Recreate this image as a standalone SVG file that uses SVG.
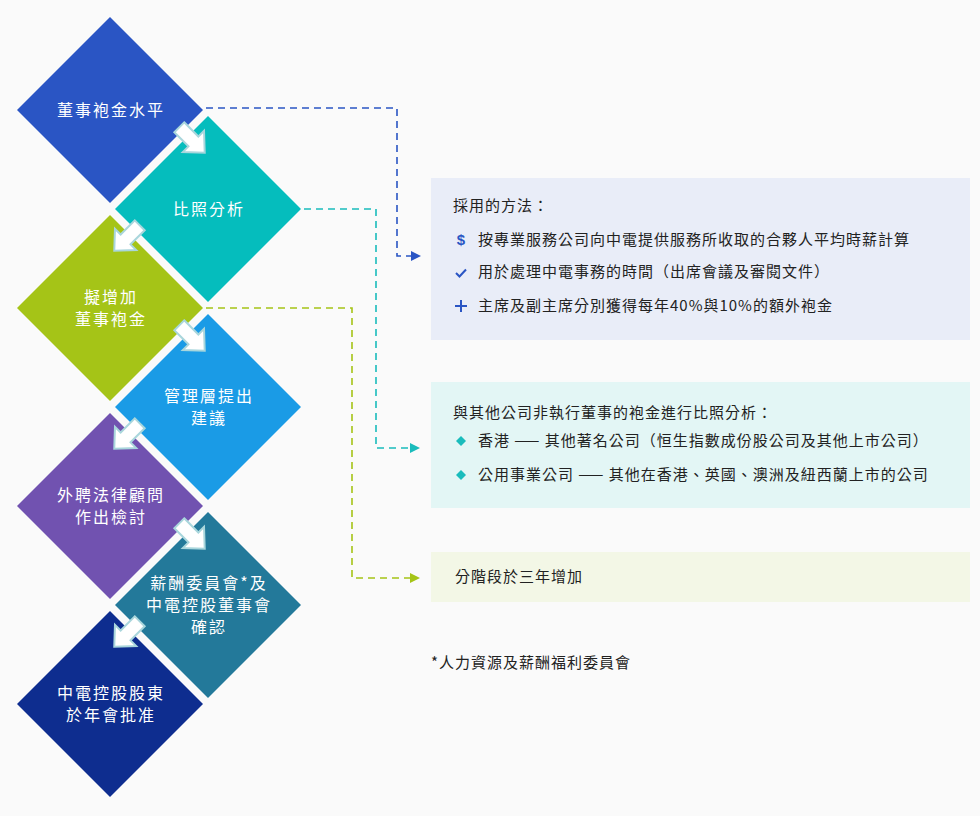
<svg xmlns="http://www.w3.org/2000/svg" width="980" height="816" viewBox="0 0 980 816">
<style>
.n{font-family:"Noto Sans CJK TC","Noto Sans CJK SC",sans-serif;font-size:16px;letter-spacing:2px;fill:#fff;text-anchor:middle}
.t{font-family:"Noto Sans CJK TC","Noto Sans CJK SC",sans-serif;font-size:15px;letter-spacing:1px;fill:#222}
.ar{fill:#fff;stroke:#a9d6dc;stroke-width:2}
.c{fill:none;stroke-width:1.6;stroke-dasharray:7 5}
</style>
<defs>
<path id="arr" d="M-18,-7 L2,-7 L2,-15 L18,0 L2,15 L2,7 L-18,7 Z"/>
<path id="dm" d="M0,-93 L93,0 L0,93 L-93,0 Z"/>
</defs>
<rect width="980" height="816" fill="#fafafa"/>
<rect x="431" y="178" width="539" height="162" fill="#e9edf8"/>
<rect x="431" y="382" width="539" height="126" fill="#e3f6f5"/>
<rect x="431" y="552" width="539" height="50" fill="#f3f7e6"/>
<g id="d1"><use href="#dm" x="110" y="110" fill="#2a55c4"/><text class="n" x="111" y="116">董事袍金水平</text></g>
<g id="d2"><use href="#dm" x="208" y="209" fill="#05bdbd"/><text class="n" x="209" y="215">比照分析</text></g>
<g id="d3"><use href="#dm" x="110" y="308" fill="#a5c417"/><text class="n" x="111" y="303">擬增加</text><text class="n" x="111" y="325">董事袍金</text></g>
<g id="d4"><use href="#dm" x="208" y="407" fill="#1a9be6"/><text class="n" x="209" y="402">管理層提出</text><text class="n" x="209" y="424">建議</text></g>
<g id="d5"><use href="#dm" x="110" y="506" fill="#7152b0"/><text class="n" x="111" y="501">外聘法律顧問</text><text class="n" x="111" y="523">作出檢討</text></g>
<g id="d6"><use href="#dm" x="208" y="605" fill="#23799a"/><text class="n" x="209" y="589">薪酬委員會*及</text><text class="n" x="209" y="611">中電控股董事會</text><text class="n" x="209" y="633">確認</text></g>
<g id="d7"><use href="#dm" x="110" y="704" fill="#0e2d8f"/><text class="n" x="111" y="699">中電控股股東</text><text class="n" x="111" y="721">於年會批准</text></g>
<g id="flow-arrows">
<use href="#arr" class="ar" transform="translate(192,140) rotate(45)"/>
<use href="#arr" class="ar" transform="translate(127,238) rotate(135)"/>
<use href="#arr" class="ar" transform="translate(192,338) rotate(45)"/>
<use href="#arr" class="ar" transform="translate(127,436) rotate(135)"/>
<use href="#arr" class="ar" transform="translate(192,536) rotate(45)"/>
<use href="#arr" class="ar" transform="translate(127,634) rotate(135)"/>
</g>
<g id="connectors">
<path class="c" stroke="#2a55c4" d="M206,108 H397 V256 H412"/>
<path d="M411,251 L421,256 L411,261 Z" fill="#2a55c4"/>
<path class="c" stroke="#1abcbc" d="M304,209 H376 V448 H411"/>
<path d="M410,443 L420,448 L410,453 Z" fill="#1abcbc"/>
<path class="c" stroke="#a5c417" d="M206,308 H352 V578 H411"/>
<path d="M410,573 L420,578 L410,583 Z" fill="#a5c417"/>
</g>
<g id="box1">
<text class="t" x="453" y="211">採用的方法：</text>
<text x="461" y="245" font-family="Liberation Sans,sans-serif" font-size="15" font-weight="bold" fill="#2a55c4" text-anchor="middle">$</text>
<text class="t" x="478" y="245">按專業服務公司向中電提供服務所收取的合夥人平均時薪計算</text>
<path d="M456,273 L459.5,276.5 L466,269.5" fill="none" stroke="#2a55c4" stroke-width="2"/>
<text class="t" x="478" y="277">用於處理中電事務的時間（出席會議及審閱文件）</text>
<path d="M461,300 V312 M455,306 H467" stroke="#2a55c4" stroke-width="2"/>
<text class="t" x="478" y="311">主席及副主席分別獲得每年40%與10%的額外袍金</text>
</g>
<g id="box2">
<text class="t" x="453" y="418">與其他公司非執行董事的袍金進行比照分析：</text>
<path d="M461,436 L466,441 L461,446 L456,441 Z" fill="#1abcbc"/>
<text class="t" x="478" y="446">香港 —— 其他著名公司（恒生指數成份股公司及其他上市公司）</text>
<path d="M461,470 L466,475 L461,480 L456,475 Z" fill="#1abcbc"/>
<text class="t" x="478" y="480">公用事業公司 —— 其他在香港、英國、澳洲及紐西蘭上市的公司</text>
</g>
<g id="box3"><text class="t" x="455" y="582">分階段於三年增加</text></g>
<text class="t" x="431" y="668">*人力資源及薪酬福利委員會</text>
</svg>
